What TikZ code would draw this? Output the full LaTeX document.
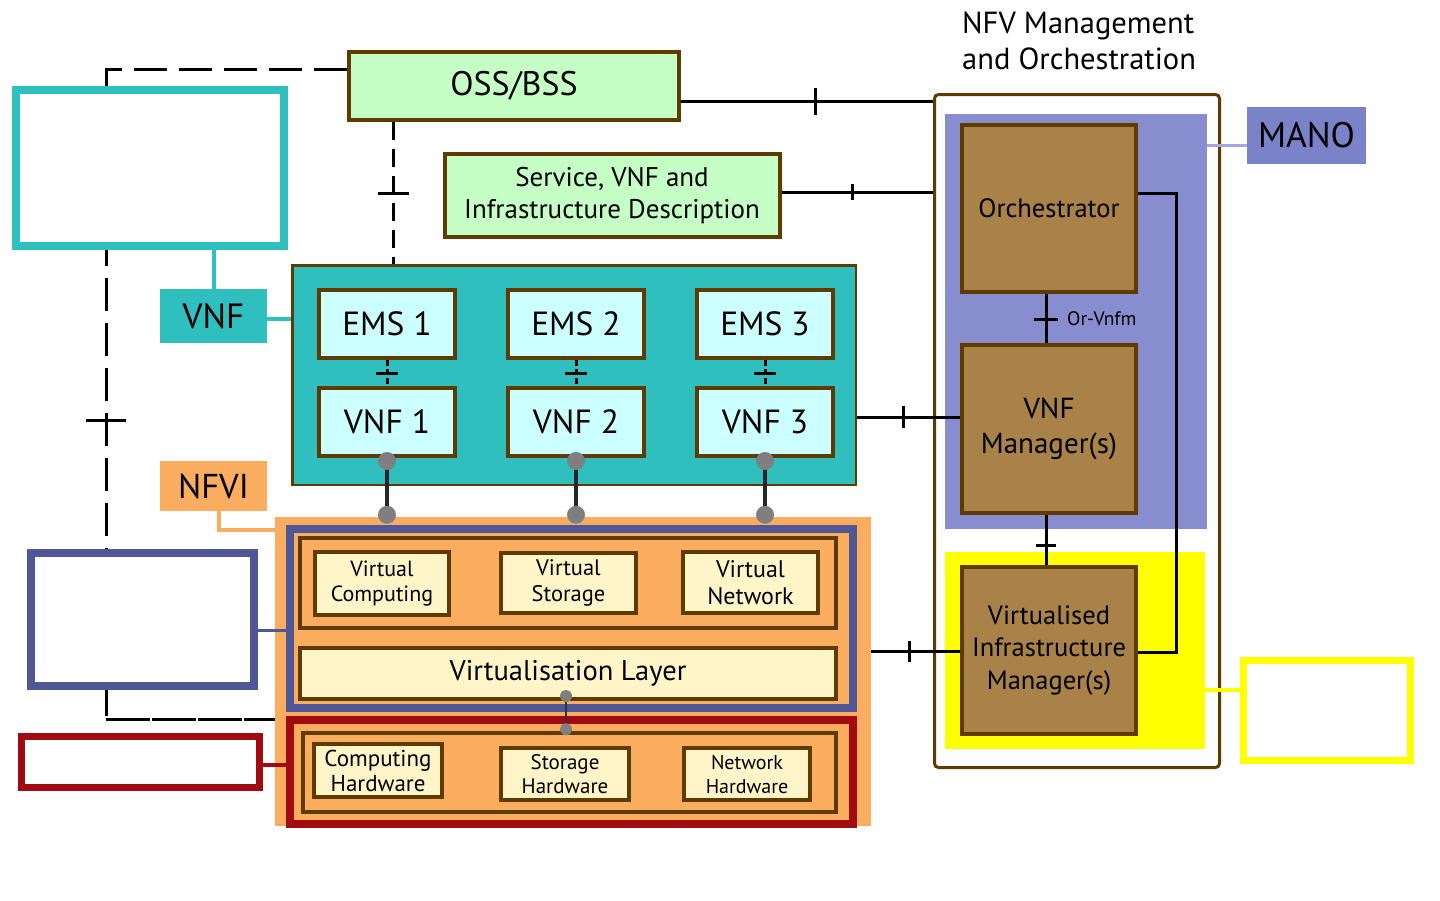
\documentclass[tikz,border=0pt]{standalone}
\usepackage{fontspec}
\setmainfont{PT Sans}
\usetikzlibrary{calc}
\definecolor{brn}{HTML}{5F3B00}
\definecolor{lgreen}{HTML}{C6FFC6}
\definecolor{tealc}{HTML}{30BFBF}
\definecolor{lcyan}{HTML}{CCFFFF}
\definecolor{orng}{HTML}{FBAD5F}
\definecolor{lyel}{HTML}{FFF5C8}
\definecolor{bluo}{HTML}{4F5796}
\definecolor{redo}{HTML}{A00A10}
\definecolor{manob}{HTML}{878DCF}
\definecolor{manol}{HTML}{7A82C8}
\definecolor{manoline}{HTML}{A3A8DC}
\definecolor{brnf}{HTML}{A98249}
\definecolor{yel}{HTML}{FFFF00}
\definecolor{dotg}{HTML}{7F7F7F}
\newcommand{\myfs}[2]{\fontsize{#1pt}{#2pt}\selectfont}
\begin{document}
\begin{tikzpicture}[x=1pt,y=-1pt,
  sz/.style 2 args={minimum width=#1pt, minimum height=#2pt},
  box/.style={draw=brn, line width=4pt, inner sep=0pt, align=center, text=black},
  gbox/.style={box, fill=lgreen},
  cbox/.style={box, fill=lcyan},
  ybox/.style={box, fill=lyel},
  fbox/.style={draw=brn, line width=3.5pt, fill=orng, inner sep=0pt},
  mbox/.style={box, fill=brnf},
  olbox/.style={draw=#1, line width=8pt, fill=white, inner sep=0pt},
  region/.style={fill=#1, draw=none, inner sep=0pt},
  lbl/.style={fill=#1, draw=none, inner sep=0pt, align=center},
  conn/.style={line width=3pt, black},
  tkm/.style={fill=black, draw=none, inner sep=0pt, outer sep=0pt, minimum width=3pt, minimum height=#1, sloped, allow upside down},
  ldash/.style={line width=3pt, black, dash pattern=on 33pt off 12pt},
  odash/.style={line width=3pt, black, dash pattern=on 18pt off 9pt},
  emsd/.style={line width=3pt, black, dash pattern=on 6pt off 3pt},
  dotline/.style={line width=4pt, black!85}
]
\useasboundingbox (0,0) rectangle (1440,900);
\fill[white] (0,0) rectangle (1440,900);

% ---- top boxes
\node[gbox, sz={330}{68}, font=\myfs{34}{40}] (oss) at (514,86) {OSS/BSS};
\node[gbox, sz={335}{83}, font=\myfs{27}{32}] (sd) at (612,195.5) {Service, VNF and\\Infrastructure Description};

% ---- VNF block
\node[region=tealc, draw=brn, line width=2.5pt, sz={563.5}{219.5}] (vnfblk) at (574,375) {};
\foreach \i/\x in {1/387,2/576,3/765}{
  \node[cbox, sz={136}{68}, font=\myfs{33.5}{38}] (ems\i) at (\x,324) {EMS \i};
  \node[cbox, sz={136}{68}, font=\myfs{33.5}{38}] (vnf\i) at (\x,422) {VNF \i};
  \draw[emsd] (ems\i.south) -- node[tkm=22pt]{} (vnf\i.north);
}

% ---- NFVI
\node[region=orng, sz={596}{309}] (nfvi) at (573,671.5) {};
\node[olbox=bluo, fill=orng, sz={563}{179}] (bo) at (571.5,618.5) {};
\node[fbox, sz={536}{90}] (fr1) at (568,583) {};
\node[ybox, sz={134}{63}, font=\myfs{22}{25}] (vc) at (382,583.5) {Virtual\\Computing};
\node[ybox, sz={135}{60}, font=\myfs{22.5}{26}] (vs) at (568.5,583) {Virtual\\Storage};
\node[ybox, sz={135}{61}, font=\myfs{24}{27}] (vn) at (750.5,582.5) {Virtual\\Network};
\node[ybox, sz={536}{51}, font=\myfs{28.5}{32}] (vl) at (568,673.5) {Virtualisation Layer};
\node[olbox=redo, fill=orng, sz={563}{104}] (ro) at (571.5,772) {};
\node[fbox, sz={533}{79}] (fr2) at (569.5,772.5) {};
\node[ybox, sz={128}{53}, font=\myfs{23}{25}] (ch) at (378,770.5) {Computing\\Hardware};
\node[ybox, sz={128}{52}, font=\myfs{21}{24}] (sh) at (565,774) {Storage\\Hardware};
\node[ybox, sz={126}{52}, font=\myfs{20}{24}] (nh) at (747,774) {Network\\Hardware};

% ---- VNF to NFVI dots
\foreach \i in {1,2,3}{
  \coordinate (t\i) at (vnf\i.south |- nfvi.north);
  \draw[dotline] ($(vnf\i.south)+(0,6)$) -- ($(t\i)+(0,-6)$);
  \fill[dotg] ($(vnf\i.south)+(0,3)$) circle[radius=9pt];
  \fill[dotg] ($(t\i)+(0,-2)$) circle[radius=9pt];
}
\coordinate (vm) at (566,0);
\draw[line width=2.5pt, black!80] (vl.south -| vm) -- (fr2.north -| vm);
\fill[dotg] ($(vl.south -| vm)+(0,-5)$) circle[radius=6pt];
\fill[dotg] ($(fr2.north -| vm)+(0,-2)$) circle[radius=6pt];

% ---- dashed lines
\coordinate (c1) at (106,69);
\coordinate (c2) at (106,719);
\draw[ldash] (oss.west |- c1) -- (c1) -- node[tkm=40pt, pos=0.54]{} (c2);
\draw[line width=3pt, black, dash pattern=on 44pt off 2pt] (c2) -- (c2 -| nfvi.west);
\coordinate (dx) at (393,0);
\draw[odash] (oss.south -| dx) -- node[tkm=31pt]{} (vnfblk.north -| dx);

% ---- left boxes and labels
\node[olbox=tealc, sz={268}{156}] (tb) at (150,168) {};
\node[lbl=tealc, sz={107}{54}, font=\myfs{35}{40}] (vnflbl) at (213.5,316) {VNF};
\draw[line width=4pt, tealc] (vnflbl.north) -- (vnflbl.north |- tb.south);
\coordinate (v3) at ($(vnflbl.east)+(0,3)$);
\draw[line width=4pt, tealc] (v3) -- (v3 -| vnfblk.west);

\node[lbl=orng, sz={107}{50}, font=\myfs{34.5}{40}] (nfvilbl) at (213.5,486) {NFVI};
\coordinate (n1) at ($(nfvilbl.south)+(5,0)$);
\coordinate (y530) at (0,530);
\draw[orng, line width=4pt] (n1) |- (nfvi.west |- y530);

\node[olbox=bluo, sz={223}{133}] (lb) at (142.5,619.5) {};
\coordinate (lb1) at ($(lb.east)+(0,11)$);
\draw[bluo, line width=3.5pt] (lb1) -- (lb1 -| bo.west);

\node[olbox=redo, line width=7pt, sz={238}{51}] (lr) at (140.5,762) {};
\coordinate (lr1) at ($(lr.east)+(0,3)$);
\draw[redo, line width=4pt] (lr1) -- (lr1 -| ro.west);

% ---- MANO
\node[anchor=north west, align=left, inner sep=0pt, font=\myfs{30.5}{36}] (title) at (962,12) {NFV Management\\and Orchestration};
\node[draw=brn, line width=3pt, fill=white, rounded corners=4pt, sz={285}{673}] (mano) at (1077,431) {};
\node[region=manob, sz={262}{415}] (br) at (1076,321.5) {};
\node[region=yel, sz={260}{197}] (yr) at (1075,650.5) {};
\node[mbox, sz={174}{167}, font=\myfs{26.5}{30}] (orch) at (1049,208.5) {Orchestrator};
\node[mbox, sz={174}{168}, font=\myfs{29}{35}] (vnfm) at (1049,429) {VNF\\Manager(s)};
\node[mbox, sz={174}{167}, font=\myfs{26.5}{32.5}] (vim) at (1049,650.5) {Virtualised\\Infrastructure\\Manager(s)};

\draw[conn] ($(orch.south)+(-3,0)$) coordinate (oa) -- node[tkm=24pt, pos=.52]{} (oa |- vnfm.north);
\node[font=\myfs{19.5}{22}, anchor=west, inner sep=0pt] (orvl) at (1067,319) {Or-Vnfm};
\draw[conn] ($(vnfm.south)+(-3,0)$) coordinate (va) -- node[tkm=20pt, pos=.6]{} (va |- vim.north);
\coordinate (l1) at ($(orch.east)+(0,-15.5)$);
\coordinate (l2) at ($(vim.east)+(38,1.5)$);
\coordinate (l3) at ($(vim.east)+(0,1.5)$);
\draw[conn] (l1) -| (l2) -- (l3);

\node[lbl=manol, sz={119}{57}, font=\myfs{35.5}{40}] (manolbl) at (1306.5,135.5) {MANO};
\coordinate (m1) at ($(manolbl.west)+(0,10)$);
\draw[line width=3pt, manoline] (m1) -- (m1 -| br.east);
\node[olbox=yel, line width=7pt, sz={167}{100}] (yb) at (1327,710.5) {};
\coordinate (yy1) at ($(yb.west)+(0,-21)$);
\draw[yel, line width=4pt] (yy1) -- (yy1 -| yr.east);

% ---- connectors to MANO
\coordinate (o1) at ($(oss.east)+(0,15)$);
\draw[conn] (o1) -- node[tkm=27pt, pos=.534]{} (o1 -| mano.west);
\coordinate (s1) at ($(sd.east)+(0,-3.5)$);
\draw[conn] (s1) -- node[tkm=16pt, pos=.467]{} (s1 -| mano.west);
\coordinate (v1) at ($(vnfblk.east)+(0,42)$);
\draw[conn] (v1) -- node[tkm=22pt, pos=.456]{} (v1 -| vnfm.west);
\coordinate (f1) at ($(nfvi.east)+(0,-20.5)$);
\draw[conn] (f1) -- node[tkm=21pt, pos=.427]{} (f1 -| vim.west);
\end{tikzpicture}
\end{document}
